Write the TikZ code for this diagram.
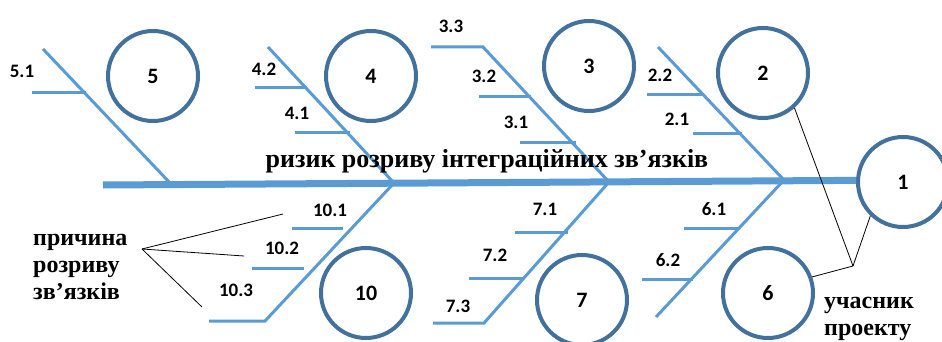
\documentclass[tikz,border=0pt]{standalone}
\usepackage{fontspec}
\setmainfont{Liberation Serif}
\newfontfamily\numfont{Carlito}
\usetikzlibrary{positioning}
\definecolor{boneblue}{HTML}{5B9BD5}
\definecolor{ringblue}{HTML}{41719C}

\begin{document}
\begin{tikzpicture}[x=1pt, y=-1pt,
    ring/.style={circle, draw=ringblue, line width=4pt, minimum size=90pt,
                 inner sep=0pt, font=\numfont\bfseries\fontsize{22}{22}\selectfont},
    bone/.style={draw=boneblue, line width=3pt},
    spine/.style={draw=boneblue, line width=7pt},
    numlbl/.style={font=\numfont\bfseries\fontsize{19}{19}\selectfont, inner sep=0pt},
    causetxt/.style={font=\bfseries\fontsize{24}{27}\selectfont, align=left, inner sep=0pt},
    pointer/.style={draw=black, line width=0.8pt}
  ]
    \clip (0,0) rectangle (942,342);

    % rings
    \node[ring] (c1) at (903,182) {1};
    \node[ring] (c2) at (763,73) {2};
    \node[ring] (c3) at (589,66) {3};
    \node[ring] (c4) at (371,76) {4};
    \node[ring] (c5) at (153,76) {5};
    \node[ring] (c6) at (768,293) {6};
    \node[ring] (c7) at (582,300) {7};
    \node[ring] (c10) at (366,293) {10};

    % spine and joints
    \coordinate (tail) at (103,185);
    \coordinate (j5) at (171,184);
    \coordinate (j4) at (394,183);
    \coordinate (j3) at (609,182);
    \coordinate (j2) at (784,180);
    \draw[spine] (tail) -- (c1.178);

    % upper bones
    \draw[bone] (43,49) -- (j5);
    \draw[bone] (268,47) -- (j4);
    \draw[bone] (431,47) -- (483,47) -- (j3);
    \draw[bone] (658,47) -- (j2);
    % lower bones
    \draw[bone] (j4) -- (265,321) -- (209,321);
    \draw[bone] (j3) -- (484,323) -- (433,323);
    \draw[bone] (j2) -- (656,317);

    % small bones
    \foreach \y/\xa/\xb in {93/32/86, 88/255/307, 133/295/350, 97/479/531,
        143/520/576, 95/647/703, 134/693/742, 228/292/343, 268/252/304,
        232/515/568, 278/469/524, 228/684/738, 279/642/693}
      \draw[bone] (\xa,\y) -- (\xb,\y);

    % labels
    \node[numlbl] (l51) at (22,71) {5.1};
    \node[numlbl] (l42) at (264,69) {4.2};
    \node[numlbl] (l41) at (297,113) {4.1};
    \node[numlbl] (l33) at (451,26) {3.3};
    \node[numlbl] (l32) at (484,76) {3.2};
    \node[numlbl] (l31) at (516,122) {3.1};
    \node[numlbl] (l22) at (660,75) {2.2};
    \node[numlbl] (l21) at (677,119) {2.1};
    \node[numlbl] (l101) at (330,210) {10.1};
    \node[numlbl] (l102) at (282,248) {10.2};
    \node[numlbl] (l103) at (236,290) {10.3};
    \node[numlbl] (l71) at (545,209) {7.1};
    \node[numlbl] (l72) at (495,255) {7.2};
    \node[numlbl] (l73) at (458,306) {7.3};
    \node[numlbl] (l61) at (714,209) {6.1};
    \node[numlbl] (l62) at (668,260) {6.2};

    \node[causetxt, font=\bfseries\fontsize{26}{27}\selectfont, anchor=base] (risk)
      at (487,167) {ризик розриву інтеграційних зв’язків};
    \node[causetxt, anchor=north west] (cause) at (33,234) {причина\\розриву\\зв’язків};
    \node[causetxt, anchor=north west] (member) at (824,297) {учасник\\проекту};

    % pointers
    \coordinate (causept) at (142,249);
    \coordinate (to101) at (283,214);
    \coordinate (to102) at (244,256);
    \coordinate (to103) at (202,307);
    \draw[pointer] (causept) -- (to101);
    \draw[pointer] (causept) -- (to102);
    \draw[pointer] (causept) -- (to103);
    \coordinate (memberpt) at (853,266);
    \draw[pointer] (memberpt) -- (c2.-48);
    \draw[pointer] (memberpt) -- (c1.-134);
    \draw[pointer] (memberpt) -- (c6.20);
\end{tikzpicture}
\end{document}
